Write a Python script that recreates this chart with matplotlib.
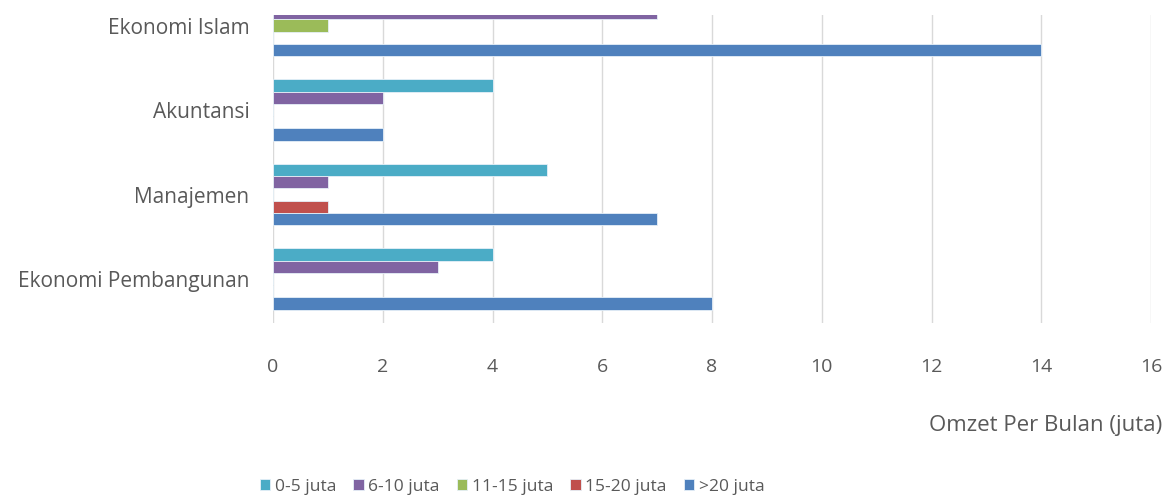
import matplotlib
matplotlib.use("Agg")
import matplotlib.pyplot as plt
import numpy as np

# Study programmes, bottom to top on the chart
categories = ["Ekonomi Pembangunan", "Manajemen", "Akuntansi", "Ekonomi Islam"]
series_names = ["0-5 juta", "6-10 juta", "11-15 juta", "15-20 juta", ">20 juta"]
series_colors = ["#4BACC6", "#8064A2", "#9BBB59", "#C0504D", "#4F81BD"]

# Counts per turnover class, ordered as in `categories`
v_0_5 = [4, 5, 4, 0]
v_6_10 = [3, 1, 2, 7]
v_11_15 = [0, 0, 0, 1]
v_15_20 = [0, 1, 0, 0]
v_gt20 = [8, 7, 2, 14]
series_values = [v_0_5, v_6_10, v_11_15, v_15_20, v_gt20]

x_ticks = [0, 2, 4, 6, 8, 10, 12, 14, 16]

text_color = "#595959"
plt.rcParams["font.family"] = ["Open Sans", "DejaVu Sans"]

fig = plt.figure(figsize=(11.73, 5.01), dpi=100)
ax = fig.add_axes([273 / 1173, 1 - 323 / 501, (1151 - 273) / 1173, (323 - 15) / 501])

y = np.arange(len(categories))
h = 0.1456
for i, (name, vals, col) in enumerate(zip(series_names, series_values, series_colors)):
    ax.barh(y + (2 - i) * h, vals, height=h, color=col, label=name,
            edgecolor="#E6F0F8", linewidth=0.6, zorder=3)

ax.set_xlim(0, 16)
ax.set_ylim((279 - 323) / 84.5, (279 - 15) / 84.5)
ax.set_xticks(x_ticks)
ax.set_yticks(y)
ax.set_yticklabels(categories)
ax.grid(axis="x", color="#D9D9D9", linewidth=1, zorder=0)
for s in ax.spines.values():
    s.set_visible(False)
ax.tick_params(axis="both", length=0, colors=text_color)
ax.tick_params(axis="x", pad=25, labelsize=14)
ax.tick_params(axis="y", pad=17, labelsize=15)

fig.text(1162 / 1173, 1 - 425 / 501, "Omzet Per Bulan (juta)", ha="right", va="center",
         color=text_color, fontsize=16)

leg = fig.legend(loc="center", bbox_to_anchor=(512 / 1173, 1 - 487 / 501), ncol=5,
                 frameon=False, fontsize=12.5, handlelength=0.6, handleheight=0.6,
                 handletextpad=0.25, columnspacing=1.0)
for t in leg.get_texts():
    t.set_color(text_color)

fig.savefig("out.png", dpi=100, facecolor="white")
